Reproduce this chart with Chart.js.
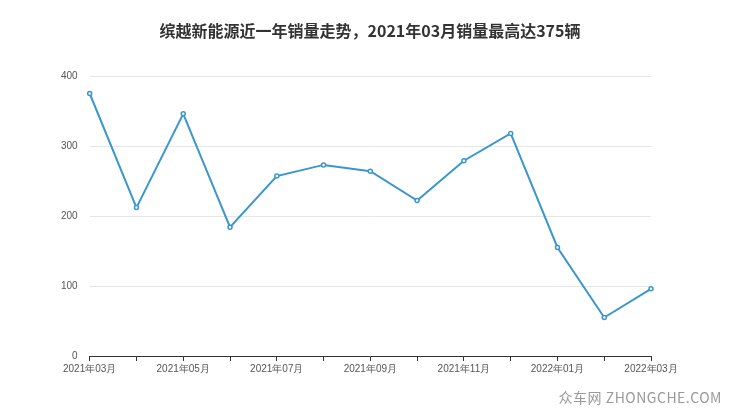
<!DOCTYPE html>
<html>
<head>
<meta charset="utf-8">
<script src="https://cdn.jsdelivr.net/npm/chart.js@4"></script>
<style>
  body { margin: 0; background: #fff; font-family: "Noto Sans CJK SC", sans-serif; }
  #wrap { position: relative; width: 740px; height: 417px; }
  #title { position: absolute; top: 18px; left: 0; width: 740px; text-align: center; font-size: 16px; font-weight: bold; color: #333; }
  #mark { position: absolute; right: 18px; bottom: 10px; font-size: 14px; color: #999; letter-spacing: 0.5px; }
  canvas { position: absolute; left: 0; top: 0; }
</style>
</head>
<body>
<div id="wrap">
  <canvas id="c" width="740" height="417"></canvas>
  <div id="title">缤越新能源近一年销量走势，2021年03月销量最高达375辆</div>
  <div id="mark">众车网 ZHONGCHE.COM</div>
</div>
<script>
const months = ['2021年03月','2021年04月','2021年05月','2021年06月','2021年07月','2021年08月','2021年09月','2021年10月','2021年11月','2021年12月','2022年01月','2022年02月','2022年03月'];
const sales = [375, 212, 346, 184, 257, 273, 264, 222, 279, 318, 155, 55, 96];
const yTicks = [0, 100, 200, 300, 400];

new Chart(document.getElementById('c'), {
  type: 'line',
  data: {
    labels: months,
    datasets: [{
      data: sales,
      borderColor: '#3a96cc',
      backgroundColor: '#fff',
      borderWidth: 2,
      pointRadius: 2,
      pointBorderWidth: 1.5,
      pointBorderColor: '#3a96cc',
      tension: 0
    }]
  },
  options: {
    animation: false,
    responsive: false,
    layout: { padding: { left: 49, right: 89, top: 76, bottom: 40 } },
    plugins: { legend: { display: false }, tooltip: { enabled: false } },
    scales: {
      x: {
        grid: { display: true, drawOnChartArea: false, tickLength: 5, color: '#333' },
        border: { color: '#333' },
        ticks: {
          autoSkip: false, maxRotation: 0, color: '#555', font: { size: 10 }, padding: 2,
          callback: (v, i) => i % 2 === 0 ? months[i] : ''
        }
      },
      y: {
        min: yTicks[0], max: yTicks[yTicks.length - 1],
        afterBuildTicks: a => { a.ticks = yTicks.map(v => ({ value: v })); },
        grid: { color: '#e6e6e6', drawTicks: false },
        border: { display: false },
        ticks: { color: '#555', font: { size: 10 }, padding: 12 }
      }
    }
  }
});
</script>
</body>
</html>
